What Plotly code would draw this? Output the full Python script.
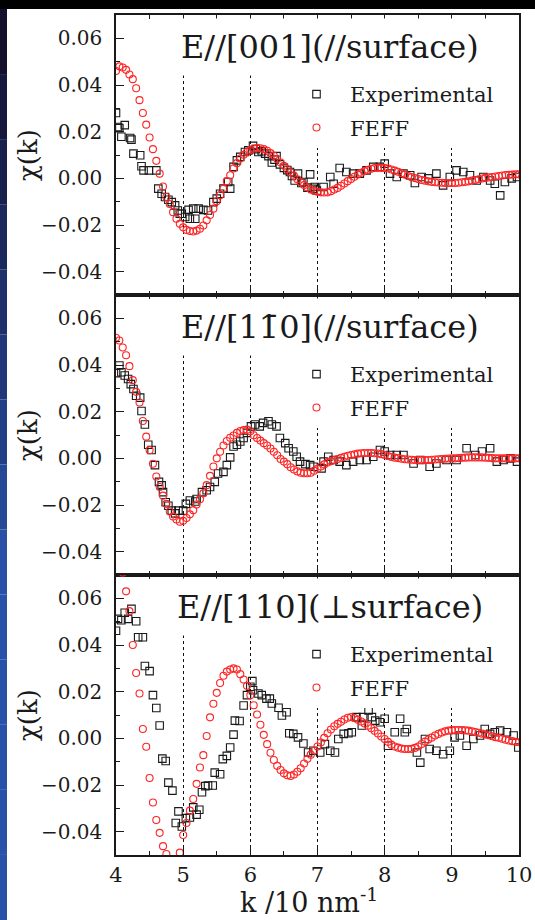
import plotly.graph_objects as go

# ---------------- data ----------------
k_feff = [4.00, 4.05, 4.10, 4.15, 4.20, 4.25, 4.30, 4.35, 4.40, 4.45,
          4.50, 4.55, 4.60, 4.65, 4.70, 4.75, 4.80, 4.85, 4.90, 4.95,
          5.00, 5.05, 5.10, 5.15, 5.20, 5.25, 5.30, 5.35, 5.40, 5.45,
          5.50, 5.55, 5.60, 5.65, 5.70, 5.75, 5.80, 5.85, 5.90, 5.95,
          6.00, 6.05, 6.10, 6.15, 6.20, 6.25, 6.30, 6.35, 6.40, 6.45,
          6.50, 6.55, 6.60, 6.65, 6.70, 6.75, 6.80, 6.85, 6.90, 6.95,
          7.00, 7.05, 7.10, 7.15, 7.20, 7.25, 7.30, 7.35, 7.40, 7.45,
          7.50, 7.55, 7.60, 7.65, 7.70, 7.75, 7.80, 7.85, 7.90, 7.95,
          8.00, 8.05, 8.10, 8.15, 8.20, 8.25, 8.30, 8.35, 8.40, 8.45,
          8.50, 8.55, 8.60, 8.65, 8.70, 8.75, 8.80, 8.85, 8.90, 8.95,
          9.00, 9.05, 9.10, 9.15, 9.20, 9.25, 9.30, 9.35, 9.40, 9.45,
          9.50, 9.55, 9.60, 9.65, 9.70, 9.75, 9.80, 9.85, 9.90, 9.95,
          10.00]

feff_001 = [0.0460, 0.0480, 0.0475, 0.0465, 0.0445, 0.0425, 0.0386, 0.0335, 0.0280, 0.0230,
            0.0175, 0.0125, 0.0075, 0.0020, -0.0035, -0.0080, -0.0110, -0.0145, -0.0173, -0.0195,
            -0.0210, -0.0221, -0.0226, -0.0228, -0.0224, -0.0216, -0.0202, -0.0180, -0.0157, -0.0130,
            -0.0098, -0.0072, -0.0044, -0.0012, 0.0013, 0.0042, 0.0065, 0.0085, 0.0101, 0.0113,
            0.0122, 0.0128, 0.0130, 0.0129, 0.0125, 0.0118, 0.0108, 0.0097, 0.0083, 0.0068,
            0.0054, 0.0039, 0.0025, 0.0011, -0.0004, -0.0017, -0.0029, -0.0039, -0.0047, -0.0054,
            -0.0058, -0.0060, -0.0061, -0.0060, -0.0055, -0.0048, -0.0041, -0.0032, -0.0022, -0.0012,
            -0.0003, 0.0007, 0.0016, 0.0024, 0.0031, 0.0037, 0.0041, 0.0044, 0.0045, 0.0045,
            0.0044, 0.0042, 0.0038, 0.0033, 0.0028, 0.0022, 0.0016, 0.0010, 0.0005, 0.0001,
            -0.0003, -0.0007, -0.0010, -0.0013, -0.0015, -0.0017, -0.0018, -0.0019, -0.0020, -0.0020,
            -0.0020, -0.0020, -0.0019, -0.0017, -0.0015, -0.0013, -0.0010, -0.0007, -0.0004, -0.0001,
            0.0002, 0.0004, 0.0006, 0.0008, 0.0010, 0.0012, 0.0014, 0.0015, 0.0016, 0.0017,
            0.0017]

feff_1m10 = [0.0517, 0.0505, 0.0475, 0.0442, 0.0395, 0.0335, 0.0285, 0.0239, 0.0160, 0.0093,
             0.0035, -0.0023, -0.0078, -0.0123, -0.0160, -0.0195, -0.0228, -0.0249, -0.0262, -0.0272,
             -0.0268, -0.0256, -0.0240, -0.0222, -0.0198, -0.0175, -0.0150, -0.0115, -0.0075, -0.0035,
             0.0000, 0.0028, 0.0055, 0.0074, 0.0088, 0.0098, 0.0109, 0.0117, 0.0121, 0.0123,
             0.0116, 0.0099, 0.0087, 0.0076, 0.0065, 0.0055, 0.0042, 0.0028, 0.0013, -0.0003,
             -0.0014, -0.0025, -0.0038, -0.0048, -0.0056, -0.0062, -0.0064, -0.0064, -0.0062, -0.0053,
             -0.0045, -0.0035, -0.0026, -0.0018, -0.0012, -0.0007, -0.0003, 0.0002, 0.0007, 0.0011,
             0.0014, 0.0017, 0.0020, 0.0022, 0.0023, 0.0023, 0.0023, 0.0022, 0.0021, 0.0018,
             0.0014, 0.0010, 0.0006, 0.0003, 0.0001, -0.0002, -0.0004, -0.0005, -0.0006, -0.0007,
             -0.0007, -0.0007, -0.0007, -0.0007, -0.0006, -0.0005, -0.0004, -0.0003, -0.0002, -0.0001,
             0.0000, 0.0000, 0.0001, 0.0002, 0.0003, 0.0004, 0.0004, 0.0004, 0.0004, 0.0004,
             0.0003, 0.0002, 0.0001, 0.0000, 0.0000, 0.0000, 0.0000, 0.0000, 0.0000, 0.0000,
             0.0000]

feff_110 = [0.0800, 0.0760, 0.0710, 0.0630, 0.0545, 0.0400, 0.0280, 0.0192, 0.0040, -0.0036,
            -0.0170, -0.0275, -0.0350, -0.0405, -0.0462, -0.0496, -0.0530, -0.0550, -0.0530, -0.0490,
            -0.0414, -0.0363, -0.0310, -0.0260, -0.0195, -0.0125, -0.0072, 0.0010, 0.0090, 0.0148,
            0.0195, 0.0237, 0.0268, 0.0286, 0.0295, 0.0300, 0.0295, 0.0275, 0.0252, 0.0225,
            0.0185, 0.0142, 0.0102, 0.0058, 0.0015, -0.0025, -0.0062, -0.0093, -0.0118, -0.0136,
            -0.0150, -0.0158, -0.0161, -0.0155, -0.0143, -0.0128, -0.0108, -0.0088, -0.0070, -0.0052,
            -0.0035, -0.0018, 0.0002, 0.0022, 0.0038, 0.0052, 0.0062, 0.0071, 0.0081, 0.0088,
            0.0091, 0.0087, 0.0080, 0.0072, 0.0064, 0.0054, 0.0043, 0.0032, 0.0021, 0.0008,
            -0.0003, -0.0015, -0.0027, -0.0035, -0.0040, -0.0044, -0.0046, -0.0046, -0.0045, -0.0041,
            -0.0035, -0.0024, -0.0014, -0.0005, 0.0003, 0.0012, 0.0019, 0.0025, 0.0030, 0.0033,
            0.0035, 0.0036, 0.0036, 0.0035, 0.0034, 0.0033, 0.0030, 0.0027, 0.0024, 0.0020,
            0.0017, 0.0013, 0.0009, 0.0005, 0.0002, -0.0002, -0.0006, -0.0009, -0.0012, -0.0015,
            -0.0017]

exp_001_k = [4.00, 4.03, 4.05, 4.08, 4.13, 4.21, 4.23, 4.26, 4.36, 4.38, 4.41, 4.49, 4.60,
             4.63, 4.68, 4.73, 4.78, 4.83, 4.88, 4.92, 4.95, 4.98, 5.03, 5.08, 5.10, 5.15,
             5.18, 5.23, 5.30, 5.37, 5.45, 5.50, 5.55, 5.60, 5.67, 5.70, 5.75, 5.80, 5.85,
             5.92, 5.97, 6.04, 6.08, 6.12, 6.17, 6.22, 6.27, 6.32, 6.36, 6.39, 6.44, 6.50,
             6.55, 6.59, 6.62, 6.66, 6.71, 6.76, 6.79, 6.85, 6.89, 6.93, 6.96, 6.99, 7.09,
             7.19, 7.24, 7.33, 7.43, 7.53, 7.63, 7.73, 7.83, 7.93, 8.00, 8.08, 8.18, 8.28,
             8.38, 8.45, 8.55, 8.65, 8.77, 8.87, 8.97, 9.07, 9.17, 9.27, 9.37, 9.47, 9.57,
             9.64, 9.72, 9.79, 9.89, 9.97]
exp_001 = [0.0280, 0.0220, 0.0215, 0.0178, 0.0228, 0.0173, 0.0166, 0.0106, 0.0099, 0.0052, 0.0034, 0.0034, 0.0034,
           -0.0044, -0.0066, -0.0080, -0.0092, -0.0102, -0.0116, -0.0138, -0.0152, -0.0152, -0.0166, -0.0135, -0.0173, -0.0130,
           -0.0173, -0.0130, -0.0135, -0.0138, -0.0102, -0.0087, -0.0066, -0.0044, -0.0016, -0.0044, 0.0049, 0.0077, 0.0092,
           0.0113, 0.0120, 0.0139, 0.0125, 0.0113, 0.0116, 0.0106, 0.0095, 0.0068, 0.0080, 0.0095, 0.0060, 0.0045,
           0.0035, 0.0027, 0.0010, -0.0009, 0.0020, -0.0020, -0.0016, -0.0040, 0.0017, -0.0045, -0.0037, -0.0052, -0.0037,
           0.0006, -0.0023, 0.0044, 0.0027, 0.0020, 0.0020, 0.0034, 0.0049, 0.0049, 0.0063, 0.0020, 0.0006, 0.0020,
           0.0013, -0.0020, 0.0006, 0.0000, 0.0020, -0.0030, 0.0006, 0.0034, 0.0027, 0.0013, -0.0009, 0.0006, -0.0009,
           -0.0023, -0.0073, -0.0016, 0.0000, 0.0006]

exp_1m10_k = [4.00, 4.05, 4.08, 4.13, 4.18, 4.22, 4.26, 4.30, 4.36, 4.38, 4.43, 4.48, 4.53,
              4.58, 4.64, 4.68, 4.70, 4.74, 4.78, 4.83, 4.88, 4.93, 5.00, 5.04, 5.10, 5.18,
              5.20, 5.28, 5.35, 5.40, 5.47, 5.52, 5.60, 5.65, 5.70, 5.75, 5.80, 5.85, 5.90,
              5.95, 6.01, 6.07, 6.14, 6.19, 6.27, 6.32, 6.39, 6.44, 6.52, 6.57, 6.64, 6.69,
              6.74, 6.82, 6.89, 6.94, 7.06, 7.09, 7.16, 7.24, 7.33, 7.43, 7.53, 7.63, 7.73,
              7.83, 7.93, 8.00, 8.08, 8.18, 8.28, 8.43, 8.53, 8.67, 8.77, 8.92, 9.07, 9.22,
              9.35, 9.45, 9.57, 9.67, 9.77, 9.87, 9.97]
exp_1m10 = [0.0365, 0.0398, 0.0369, 0.0355, 0.0340, 0.0318, 0.0297, 0.0268, 0.0260, 0.0203, 0.0145, 0.0058, 0.0036,
            -0.0029, -0.0101, -0.0116, -0.0145, -0.0188, -0.0203, -0.0224, -0.0236, -0.0224, -0.0224, -0.0195, -0.0181, -0.0185,
            -0.0174, -0.0145, -0.0137, -0.0123, -0.0101, -0.0065, -0.0058, -0.0029, 0.0004, 0.0051, 0.0058, 0.0072, 0.0087,
            0.0109, 0.0137, 0.0145, 0.0137, 0.0152, 0.0159, 0.0145, 0.0137, 0.0087, 0.0065, 0.0043, 0.0029, 0.0007,
            -0.0014, -0.0025, -0.0029, -0.0036, -0.0043, -0.0014, 0.0007, -0.0007, -0.0014, -0.0029, -0.0014, -0.0007, -0.0007,
            0.0007, 0.0036, 0.0029, 0.0014, 0.0014, 0.0014, -0.0022, -0.0007, -0.0036, -0.0022, -0.0007, -0.0007, 0.0043,
            0.0014, 0.0029, 0.0043, -0.0014, -0.0007, 0.0000, -0.0014]

exp_110_k = [4.00, 4.03, 4.08, 4.13, 4.18, 4.23, 4.30, 4.33, 4.40, 4.43, 4.50, 4.55, 4.60,
             4.65, 4.69, 4.74, 4.78, 4.84, 4.89, 4.93, 4.98, 5.04, 5.10, 5.15, 5.20, 5.24,
             5.28, 5.33, 5.37, 5.44, 5.47, 5.55, 5.59, 5.65, 5.70, 5.75, 5.77, 5.84, 5.90,
             5.95, 6.00, 6.03, 6.04, 6.12, 6.17, 6.24, 6.29, 6.32, 6.42, 6.47, 6.54, 6.58,
             6.64, 6.71, 6.79, 6.86, 6.94, 7.04, 7.11, 7.19, 7.26, 7.31, 7.39, 7.46, 7.51,
             7.58, 7.66, 7.68, 7.76, 7.81, 7.86, 7.93, 8.00, 8.05, 8.15, 8.23, 8.30, 8.33,
             8.48, 8.53, 8.60, 8.67, 8.77, 8.87, 8.97, 9.04, 9.12, 9.22, 9.32, 9.42, 9.49,
             9.57, 9.64, 9.72, 9.82, 9.92, 9.99]
exp_110 = [0.0461, 0.0512, 0.0506, 0.0538, 0.0512, 0.0555, 0.0502, 0.0433, 0.0433, 0.0310, 0.0288, 0.0185, 0.0130,
           0.0055, -0.0087, -0.0097, -0.0190, -0.0224, -0.0363, -0.0313, -0.0378, -0.0342, -0.0339, -0.0296, -0.0327, -0.0306,
           -0.0231, -0.0205, -0.0202, -0.0202, -0.0147, -0.0154, -0.0089, -0.0075, -0.0039, 0.0016, 0.0076, 0.0074, 0.0141,
           0.0185, 0.0221, 0.0245, 0.0206, 0.0192, 0.0185, 0.0170, 0.0170, 0.0149, 0.0131, 0.0098, 0.0112, 0.0022,
           0.0019, 0.0004, -0.0022, -0.0061, -0.0053, -0.0061, -0.0025, -0.0053, -0.0061, -0.0003, 0.0019, 0.0022, 0.0026,
           0.0091, 0.0055, 0.0091, 0.0120, 0.0091, 0.0076, 0.0069, 0.0084, -0.0032, 0.0026, 0.0084, 0.0026, 0.0040,
           -0.0061, -0.0104, -0.0003, -0.0046, -0.0053, -0.0068, -0.0053, 0.0004, 0.0012, -0.0032, -0.0003, 0.0012, 0.0040,
           0.0019, 0.0026, 0.0033, 0.0026, 0.0012, -0.0039]

panel_titles = ["E//[001](//surface)", "E//[11\u03040](//surface)", "E//[110](\u22a5surface)"]
series_names = ["Experimental", "FEFF"]
y_title = "\u03c7(k)"
x_title = "k /10 nm<sup>-1</sup>"
x_ticks = [4, 5, 6, 7, 8, 9, 10]
y_ticks = [-0.04, -0.02, 0.00, 0.02, 0.04, 0.06]

# ---------------- layout constants ----------------
W, H = 535, 920
ML, MR, MT, MB = 116, 16, 15, 65
PW, PH = W - ML - MR, H - MT - MB
SERIF = "DejaVu Serif"
BLACK = "#1a1a1a"
RED = "#ff2424"


def px_x(p):
    return (p - ML) / PW


def px_y(p):
    return (H - MB - p) / PH


fig = go.Figure()

panels = [
    (exp_001_k, exp_001, feff_001),
    (exp_1m10_k, exp_1m10, feff_1m10),
    (exp_110_k, exp_110, feff_110),
]
legend_ids = ["legend", "legend2", "legend3"]

for i, (ek, ev, fv) in enumerate(panels):
    sfx = "" if i == 0 else str(i + 1)
    fig.add_trace(go.Scatter(
        x=ek, y=ev, mode="markers", name=series_names[0],
        xaxis="x" + sfx, yaxis="y" + sfx, legend=legend_ids[i], legendgroup="e%d" % i,
        marker=dict(symbol="square-open", size=7.5, color=BLACK, line=dict(width=1.1, color=BLACK)),
    ))
    fig.add_trace(go.Scatter(
        x=k_feff, y=fv, mode="markers", name=series_names[1],
        xaxis="x" + sfx, yaxis="y" + sfx, legend=legend_ids[i], legendgroup="f%d" % i,
        marker=dict(symbol="circle-open", size=7, color=RED, line=dict(width=1.1, color=RED)),
    ))

xcommon = dict(
    range=[4, 10], tickvals=x_ticks, showline=True, linecolor=BLACK, linewidth=1.5,
    mirror="allticks", ticks="inside", ticklen=8, tickwidth=1.2, tickcolor=BLACK,
    showgrid=True, gridcolor="#111111", griddash="dot", gridwidth=1.2, zeroline=False,
    minor=dict(ticks="inside", ticklen=4, dtick=0.5, tickcolor=BLACK, tickwidth=1),
    tickfont=dict(family=SERIF, size=21, color=BLACK), automargin=False, ticklabelstandoff=0,
)
ycommon = dict(
    range=[-0.05, 0.07], tickvals=y_ticks, tickformat=".2f", showline=True, linecolor=BLACK,
    linewidth=1.5, mirror=True, ticks="inside", ticklen=8, tickwidth=1.2, tickcolor=BLACK,
    showgrid=False, zeroline=False, ticklabelstandoff=8, automargin=False,
    minor=dict(ticks="inside", ticklen=4, dtick=0.01, tickcolor=BLACK, tickwidth=1),
    tickfont=dict(family=SERIF, size=20, color=BLACK),
)

domains = [[2 / 3, 1.0], [1 / 3, 2 / 3], [0.0, 1 / 3]]
for i in range(3):
    sfx = "" if i == 0 else str(i + 1)
    xa = dict(xcommon, anchor="y" + sfx, showticklabels=(i == 2))
    if i < 2:
        xa["matches"] = "x3"
    ya = dict(ycommon, domain=domains[i], anchor="x" + sfx)
    fig.update_layout({"xaxis" + sfx: xa, "yaxis" + sfx: ya})

annotations = []
# y-axis titles, one per panel, centred on each panel
for i in range(3):
    annotations.append(dict(
        text=y_title, xref="paper", yref="paper", x=px_x(28), y=sum(domains[i]) / 2,
        xanchor="center", yanchor="middle", textangle=-90, showarrow=False,
        font=dict(family=SERIF, size=26, color=BLACK),
    ))

# x-axis title, at the bottom edge of the figure
annotations.append(dict(
    text=x_title, xref="paper", yref="paper", x=px_x(309), y=px_y(H),
    xanchor="center", yanchor="bottom", showarrow=False,
    font=dict(family=SERIF, size=27, color=BLACK),
))

# panel titles (white box hides the dotted grid behind them, as in the original)
title_y_px = [47, 327, 607]
for i in range(3):
    annotations.append(dict(
        text=panel_titles[i], xref="paper", yref="paper", x=px_x(330), y=px_y(title_y_px[i]),
        xanchor="center", yanchor="middle", showarrow=False, bgcolor="white", borderpad=9,
        font=dict(family=SERIF, size=32, color=BLACK),
    ))

legend_top_px = [74, 354, 634]
legend_layout = {}
for i in range(3):
    legend_layout[legend_ids[i]] = dict(
        x=px_x(283), y=px_y(legend_top_px[i]), xanchor="left", yanchor="top",
        bgcolor="white", borderwidth=0, itemwidth=57, tracegroupgap=3,
        font=dict(family=SERIF, size=21, color=BLACK),
    )

# dark slide border (top bar + left gradient strip)
shapes = [dict(type="rect", xref="paper", yref="paper", x0=px_x(0), x1=px_x(W), y0=px_y(0), y1=px_y(9),
               fillcolor="#000000", line=dict(width=0), layer="above")]
n_seg = 14
c_top = (20, 16, 46)
c_bot = (40, 82, 168)
for s in range(n_seg):
    t = s / (n_seg - 1)
    col = "rgb(%d,%d,%d)" % tuple(int(a + (b - a) * min(1, t * 1.6)) for a, b in zip(c_top, c_bot))
    y0 = 9 + (H - 9) * s / n_seg
    y1 = 9 + (H - 9) * (s + 1) / n_seg
    shapes.append(dict(type="rect", xref="paper", yref="paper", x0=px_x(0), x1=px_x(7),
                       y0=px_y(y1), y1=px_y(y0), fillcolor=col, line=dict(width=0), layer="above"))

fig.update_layout(
    width=W, height=H, margin=dict(l=ML, r=MR, t=MT, b=MB, pad=0, autoexpand=False),
    paper_bgcolor="white", plot_bgcolor="white", showlegend=True,
    font=dict(family=SERIF, color=BLACK),
    annotations=annotations, shapes=shapes,
    **legend_layout,
)

fig.write_html("out.html")
